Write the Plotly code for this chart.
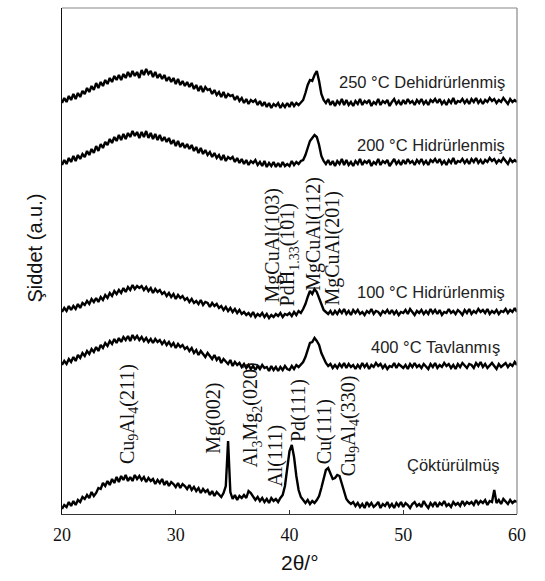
import plotly.graph_objects as go

# 2θ grid (degrees), 0.2° step
two_theta = [round(20 + 0.2 * i, 1) for i in range(201)]

# Intensities (a.u.), one row per degree (x.0, x.2, x.4, x.6, x.8)
cokturulmus = [
    5, 9, 7, 12, 8,   13, 9, 14, 12, 17,   15, 19, 16, 22, 18,   21, 26, 25, 31, 28,
    33, 29, 35, 31, 37,   32, 38, 34, 39, 33,   37, 33, 39, 35, 38,   34, 37, 32, 36, 33,
    35, 30, 34, 31, 35,   29, 33, 28, 32, 30,   27, 31, 26, 30, 28,   25, 29, 24, 27, 23,
    26, 21, 25, 22, 24,   19, 23, 18, 22, 20,   17, 21, 28, 73, 22,   15, 19, 14, 18, 16,
    19, 16, 23, 21, 17,   14, 17, 13, 16, 12,   15, 11, 16, 13, 15,   12, 16, 19, 28, 45,
    63, 69, 57, 38, 24,   17, 14, 11, 14, 10,   13, 11, 14, 18, 26,   36, 44, 46, 40, 35,
    36, 39, 38, 30, 21,   15, 12, 10, 12, 8,   11, 7, 10, 6, 12,   8, 11, 7, 9, 12,
    6, 10, 8, 12, 7,   10, 6, 11, 8, 12,   7, 11, 9, 6, 10,   12, 8, 10, 7, 13,
    9, 6, 11, 8, 12,   7, 11, 9, 13, 8,   10, 7, 12, 9, 11,   8, 13, 9, 12, 10,
    12, 9, 14, 10, 13,   11, 14, 9, 13, 12,   24, 11, 14, 10, 15,   12, 10, 14, 11, 13,
    12,
]
tavlanmis_400 = [
    9, 13, 10, 15, 12,   17, 13, 19, 16, 21,   18, 23, 20, 25, 22,   27, 23, 29, 26, 31,
    28, 33, 30, 35, 31,   36, 32, 37, 34, 38,   33, 39, 35, 38, 34,   37, 33, 36, 32, 35,
    31, 35, 32, 34, 30,   33, 29, 32, 28, 31,   26, 30, 27, 29, 25,   27, 23, 26, 21, 24,
    19, 23, 20, 17, 21,   18, 15, 19, 14, 17,   11, 15, 12, 10, 14,   8, 12, 9, 11, 7,
    10, 6, 9, 5, 8,   4, 8, 5, 9, 6,   7, 3, 8, 4, 7,   3, 7, 4, 8, 5,
    4, 8, 5, 9, 7,   10, 12, 17, 23, 31,   32, 36, 33, 29, 21,   15, 11, 8, 10, 6,
    9, 6, 10, 7, 11,   6, 10, 7, 9, 5,   9, 6, 11, 7, 10,   5, 9, 7, 11, 8,
    10, 6, 9, 5, 8,   7, 11, 6, 10, 8,   6, 9, 5, 10, 7,   11, 7, 9, 6, 10,
    8, 5, 10, 7, 11,   6, 9, 7, 11, 8,   10, 6, 9, 5, 10,   7, 11, 8, 6, 10,
    9, 6, 11, 8, 12,   7, 10, 6, 9, 11,   8, 5, 10, 7, 9,   11, 7, 10, 8, 12,
    9,
]
hidrurlenmis_100 = [
    10, 14, 11, 16, 12,   16, 13, 18, 14, 19,   17, 21, 18, 23, 20,   24, 20, 25, 22, 27,
    24, 29, 26, 31, 28,   32, 29, 34, 30, 35,   32, 37, 33, 36, 34,   36, 32, 35, 31, 34,
    29, 33, 30, 32, 28,   30, 26, 29, 25, 28,   23, 27, 24, 26, 22,   24, 20, 23, 19, 21,
    18, 22, 17, 20, 19,   15, 19, 16, 18, 14,   16, 12, 15, 11, 14,   10, 13, 9, 12, 8,
    10, 7, 9, 6, 10,   5, 8, 6, 9, 5,   8, 4, 7, 5, 8,   6, 9, 5, 8, 7,
    9, 6, 10, 7, 11,   9, 13, 18, 25, 31,   28, 33, 30, 24, 17,   12, 10, 8, 11, 7,
    11, 8, 12, 9, 13,   8, 11, 7, 12, 9,   12, 8, 10, 7, 11,   9, 13, 8, 11, 10,
    7, 11, 9, 12, 8,   12, 8, 11, 7, 10,   9, 12, 8, 13, 10,   7, 11, 9, 12, 8,
    11, 8, 13, 9, 12,   8, 12, 7, 10, 9,   13, 9, 11, 8, 12,   10, 7, 12, 9, 13,
    8, 11, 9, 13, 10,   12, 9, 13, 8, 11,   9, 12, 8, 11, 10,   13, 9, 12, 10, 14,
    10,
]
hidrurlenmis_200 = [
    7, 12, 8, 14, 10,   16, 11, 17, 13, 18,   15, 21, 17, 23, 19,   26, 21, 28, 24, 30,
    27, 33, 29, 35, 31,   37, 32, 38, 33, 39,   35, 41, 36, 40, 34,   40, 35, 41, 34, 39,
    33, 38, 32, 37, 31,   35, 30, 34, 28, 32,   26, 31, 25, 29, 24,   28, 23, 27, 21, 25,
    19, 24, 18, 22, 17,   20, 15, 19, 14, 17,   12, 17, 11, 15, 13,   15, 10, 14, 9, 13,
    8, 12, 7, 11, 9,   12, 7, 10, 6, 11,   5, 9, 6, 10, 5,   9, 5, 10, 6, 8,
    6, 11, 7, 10, 8,   11, 12, 17, 24, 31,   34, 37, 35, 27, 16,   11, 8, 12, 7, 11,
    6, 11, 8, 13, 7,   12, 7, 10, 6, 11,   8, 13, 7, 11, 9,   12, 6, 10, 8, 13,
    7, 11, 9, 12, 6,   10, 13, 8, 11, 7,   12, 8, 13, 9, 11,   7, 12, 9, 13, 8,
    11, 7, 12, 10, 13,   9, 13, 8, 11, 7,   12, 9, 14, 8, 11,   10, 13, 9, 12, 8,
    13, 10, 14, 9, 12,   8, 12, 10, 14, 11,   13, 9, 12, 10, 14,   11, 8, 13, 10, 12,
    10,
]
dehidrurlenmis_250 = [
    10, 15, 11, 17, 13,   19, 14, 20, 16, 22,   19, 25, 21, 27, 23,   30, 25, 31, 27, 33,
    29, 35, 31, 37, 33,   38, 33, 39, 35, 41,   36, 42, 37, 41, 35,   43, 38, 44, 39, 42,
    36, 41, 35, 39, 34,   38, 32, 36, 31, 35,   29, 34, 28, 32, 27,   31, 26, 30, 24, 28,
    22, 27, 21, 26, 23,   24, 19, 23, 18, 21,   16, 21, 15, 19, 17,   18, 13, 17, 12, 15,
    10, 14, 9, 13, 11,   13, 8, 12, 7, 11,   6, 10, 5, 9, 7,   10, 5, 9, 6, 10,
    6, 11, 7, 10, 8,   11, 13, 20, 28, 33,   32, 38, 42, 32, 19,   13, 10, 14, 8, 12,
    7, 12, 9, 14, 8,   13, 8, 11, 7, 12,   9, 14, 8, 12, 10,   13, 7, 11, 9, 14,
    8, 12, 10, 13, 7,   11, 14, 9, 12, 8,   13, 9, 14, 10, 12,   8, 13, 10, 14, 9,
    12, 8, 13, 11, 14,   10, 14, 9, 12, 8,   13, 10, 15, 9, 12,   11, 14, 10, 13, 9,
    14, 11, 15, 10, 13,   9, 13, 11, 15, 12,   14, 10, 13, 11, 15,   12, 9, 14, 11, 13,
    11,
]

series = [cokturulmus, tavlanmis_400, hidrurlenmis_100, hidrurlenmis_200, dehidrurlenmis_250]
offsets = [0, 140, 192, 342, 401]

sample_labels = ["Çöktürülmüş", "400 °C Tavlanmış", "100 °C Hidrürlenmiş",
                 "200 °C Hidrürlenmiş", "250 °C Dehidrürlenmiş"]
sample_label_x = [58.7, 58.7, 59.16, 59.16, 59.16]
sample_label_y = [49, 167, 222, 369, 432]

peak_labels = ["Cu<sub>9</sub>Al<sub>4</sub>(211)", "Mg(002)", "Al<sub>3</sub>Mg<sub>2</sub>(020)",
               "Al(111)", "Pd(111)", "Cu(111)", "Cu<sub>9</sub>Al<sub>4</sub>(330)",
               "MgCuAl(103)", "PdH<sub>1.33</sub>(101)", "MgCuAl(112)", "MgCuAl(201)"]
peak_label_x = [25.8, 33.3, 36.7, 38.7, 40.8, 43.1, 45.3, 38.5, 39.95, 42.05, 43.7]
peak_label_y = [48, 58, 45, 25, 70, 48, 36, 210, 206, 221, 206]

x_ticks = [20, 30, 40, 50, 60]

fig = go.Figure()
for s, off in zip(series, offsets):
    fig.add_trace(go.Scatter(
        x=two_theta, y=[v + off for v in s], mode="lines",
        line=dict(color="black", width=2.4), showlegend=False, hoverinfo="skip"))

annotations = []
for t, xx, yy in zip(sample_labels, sample_label_x, sample_label_y):
    annotations.append(dict(x=xx, y=yy, xref="x", yref="y", text=t, showarrow=False,
                            xanchor="right", yanchor="middle",
                            font=dict(family="Liberation Sans, Arial", size=16.5, color="#222")))
for t, xx, yy in zip(peak_labels, peak_label_x, peak_label_y):
    annotations.append(dict(x=xx, y=yy, xref="x", yref="y", text=t, showarrow=False,
                            textangle=-90, xanchor="center", yanchor="bottom",
                            font=dict(family="Liberation Serif, Times New Roman", size=20, color="#111")))
annotations.append(dict(x=-0.06, y=0.526, xref="paper", yref="paper", text="Şiddet (a.u.)",
                        showarrow=False, textangle=-90, xanchor="center", yanchor="middle",
                        font=dict(family="Liberation Sans, Arial", size=20, color="#111")))
annotations.append(dict(x=0.523, y=-0.0968, xref="paper", yref="paper", text="2θ/°",
                        showarrow=False, xanchor="center", yanchor="middle",
                        font=dict(family="Liberation Sans, Arial", size=21, color="#111")))

fig.update_layout(
    width=545, height=581,
    margin=dict(l=62, r=28, t=8, b=67),
    paper_bgcolor="white", plot_bgcolor="white",
    annotations=annotations,
    shapes=[
        dict(type="line", xref="paper", yref="paper", x0=0, x1=1, y0=1, y1=1,
             line=dict(color="#888", width=1.2)),
        dict(type="line", xref="paper", yref="paper", x0=1, x1=1, y0=0, y1=1,
             line=dict(color="#888", width=1.2)),
    ],
)
fig.update_xaxes(range=[20, 60], tickvals=x_ticks, ticks="inside", ticklen=4,
                 tickcolor="#333", showline=True, linecolor="#333", linewidth=1.2,
                 showgrid=False, zeroline=False, ticklabelstandoff=4,
                 tickfont=dict(family="Liberation Serif, Times New Roman", size=18, color="#111"))
fig.update_yaxes(range=[0, 506], showticklabels=False, ticks="", showline=True,
                 linecolor="#111", linewidth=1.2, showgrid=False, zeroline=False)

fig.write_html("out.html")
